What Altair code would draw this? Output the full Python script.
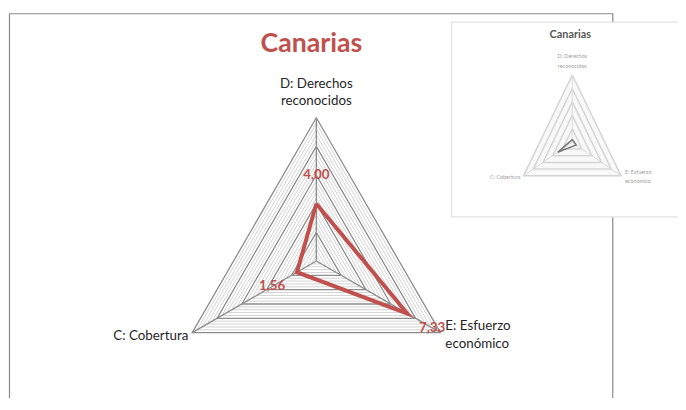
import altair as alt
import pandas as pd
import numpy as np

# ---------------- data ----------------
title_text = "Canarias"
categories = ["D: Derechos\nreconocidos", "E: Esfuerzo\neconómico", "C: Cobertura"]
values = [4.00, 7.33, 1.56]
inset_values = [0.4, 0.8, 3.0]
scale_max = 10
major_step = 2
minor_step = 0.4

# ---------------- layout ----------------
W, H = 678, 390
PX = 14.5                 # pixels per radial unit
CX, CY = 312.0, 253.7     # radar centre in plot pixels
angles = [90.0, -30.0, 210.0]  # D (top), E (bottom right), C (bottom left)
RED = "#C0504D"
FONT = "Lato"

x0, x1 = -CX / PX, (W - CX) / PX
y0, y1 = (CY - H) / PX, CY / PX
xs = alt.Scale(domain=[x0, x1], nice=False, zero=False)
ys = alt.Scale(domain=[y0, y1], nice=False, zero=False)

# inset (thumbnail) geometry in radar units
IOX, IOY = (579 - 320) / PX, (261.7 - 141.5) / PX
IFX, IFY = 57 / 145, 68 / 145


def pt(r, ang, fx=1.0, fy=1.0, ox=0.0, oy=0.0):
    a = np.deg2rad(ang)
    return ox + fx * r * np.cos(a), oy + fy * r * np.sin(a)


def rings(levels, **kw):
    rows = []
    for lv in levels:
        for o, ang in enumerate(angles + [angles[0]]):
            x, y = pt(lv, ang, **kw)
            rows.append({"level": round(lv, 2), "o": o, "x": x, "y": y})
    return pd.DataFrame(rows)


all_levels = [round(minor_step * i, 2) for i in range(1, int(round(scale_max / minor_step)) + 1)]
major_levels = [lv for lv in all_levels if abs(lv / major_step - round(lv / major_step)) < 1e-6]
minor_levels = [lv for lv in all_levels if lv not in major_levels]


def spokes(**kw):
    rows = []
    for ang in angles:
        xa, ya = pt(0, ang, **kw)
        xb, yb = pt(scale_max, ang, **kw)
        rows.append({"x": xa, "y": ya, "x2": xb, "y2": yb})
    return pd.DataFrame(rows)


def poly(vals, **kw):
    rows = []
    for o, (v, ang) in enumerate(zip(vals + [vals[0]], angles + [angles[0]])):
        x, y = pt(v, ang, **kw)
        rows.append({"o": o, "x": x, "y": y})
    return pd.DataFrame(rows)


def enc_line(ch):
    return ch.encode(
        x=alt.X("x:Q", scale=xs, axis=None),
        y=alt.Y("y:Q", scale=ys, axis=None),
        detail="level:N",
        order="o:Q",
    )


def enc_pt(ch):
    return ch.encode(x=alt.X("x:Q", scale=xs, axis=None), y=alt.Y("y:Q", scale=ys, axis=None))


def enc_rule(ch):
    return ch.encode(
        x=alt.X("x:Q", scale=xs, axis=None), y=alt.Y("y:Q", scale=ys, axis=None),
        x2="x2:Q", y2="y2:Q",
    )


# ---------------- main radar ----------------
frame = alt.Chart(pd.DataFrame({"a": [0]})).mark_rect(
    fill="white", stroke="#8a8a8a", strokeWidth=1.2
).encode(x=alt.value(1.5), x2=alt.value(612), y=alt.value(3.5), y2=alt.value(H + 30))

minor = enc_line(alt.Chart(rings(minor_levels)).mark_line(color="#c6c6c6", strokeWidth=0.8))
major = enc_line(alt.Chart(rings(major_levels)).mark_line(color="#8c8c8c", strokeWidth=1.3))
spk = enc_rule(alt.Chart(spokes()).mark_rule(color="#8c8c8c", strokeWidth=1.3))
data_line = enc_pt(
    alt.Chart(poly(values)).mark_line(color=RED, strokeWidth=4, strokeJoin="miter")
).encode(order="o:Q")

lab_rows = []
for v, ang in zip(values, angles):
    x, y = pt(v + 2.0, ang)
    lab_rows.append({"x": x, "y": y, "t": f"{v:.2f}".replace(".", ",")})
data_labels = enc_pt(
    alt.Chart(pd.DataFrame(lab_rows)).mark_text(
        font=FONT, fontSize=13.5, fontWeight="bold", color=RED, baseline="middle", align="center"
    )
).encode(text="t:N")


def cat_label(i, **mk):
    x, y = pt(scale_max, angles[i])
    df = pd.DataFrame({"x": [x], "y": [y], "t": [categories[i]]})
    return enc_pt(alt.Chart(df).mark_text(font=FONT, lineBreak="\n", **mk)).encode(text="t:N")


lab_d = cat_label(0, fontSize=13.5, color="#262626", align="center", baseline="bottom",
                  dy=-27, lineHeight=17)
lab_e = cat_label(1, fontSize=13.5, color="#262626", align="left", baseline="middle",
                  dx=5, dy=-7, lineHeight=19)
lab_c = cat_label(2, fontSize=13.5, color="#262626", align="right", baseline="middle",
                  dx=-4, dy=3)

title = alt.Chart(pd.DataFrame({"t": [title_text]})).mark_text(
    font=FONT, fontSize=27, fontWeight="bold", color=RED, align="center", baseline="alphabetic"
).encode(x=alt.value(307), y=alt.value(42), text="t:N")

# ---------------- inset thumbnail ----------------
ikw = dict(fx=IFX, fy=IFY, ox=IOX, oy=IOY)
inset_box = alt.Chart(pd.DataFrame({"a": [0]})).mark_rect(
    fill="white", stroke="#e2e2e2", strokeWidth=1.2
).encode(x=alt.value(449), x2=alt.value(700), y=alt.value(12), y2=alt.value(209))

i_minor = enc_line(alt.Chart(rings(minor_levels, **ikw)).mark_line(color="#efefef", strokeWidth=0.6))
i_major = enc_line(alt.Chart(rings(major_levels, **ikw)).mark_line(color="#d4d4d4", strokeWidth=1.5))
i_spk = enc_rule(alt.Chart(spokes(**ikw)).mark_rule(color="#dadada", strokeWidth=1))
i_data = enc_pt(
    alt.Chart(poly(inset_values, **ikw)).mark_line(color="#7a7a7a", strokeWidth=1.6)
).encode(order="o:Q")


def i_label(i, **mk):
    x, y = pt(scale_max, angles[i], **ikw)
    df = pd.DataFrame({"x": [x], "y": [y], "t": [categories[i]]})
    return enc_pt(alt.Chart(df).mark_text(font=FONT, lineBreak="\n", fontSize=5.5,
                                          color="#a0a0a0", **mk)).encode(text="t:N")


i_lab_d = i_label(0, align="center", baseline="bottom", dy=-16, lineHeight=10)
i_lab_e = i_label(1, align="left", baseline="middle", dx=4, dy=-4, lineHeight=9)
i_lab_c = i_label(2, align="right", baseline="middle", dx=-3, dy=1)

i_title = alt.Chart(pd.DataFrame({"t": [title_text]})).mark_text(
    font=FONT, fontSize=11, fontWeight="bold", color="#595959", align="center", baseline="middle"
).encode(x=alt.value(569), y=alt.value(25.5), text="t:N")

chart = alt.layer(
    frame, minor, major, spk, data_line, data_labels, lab_d, lab_e, lab_c, title,
    inset_box, i_minor, i_major, i_spk, i_data, i_lab_d, i_lab_e, i_lab_c, i_title,
).properties(
    width=W, height=H, autosize=alt.AutoSizeParams(type="none"), padding=0,
).configure_view(stroke=None)

chart.save("out.html", embed_options={"renderer": "svg", "actions": False})
